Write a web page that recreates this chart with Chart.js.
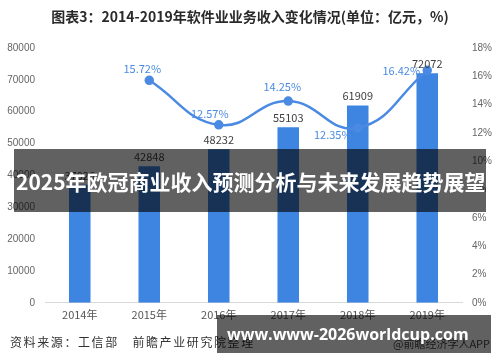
<!DOCTYPE html>
<html><head><meta charset="utf-8">
<script src="https://cdn.jsdelivr.net/npm/chart.js@4/dist/chart.umd.min.js"></script>
<style>
html,body{margin:0;padding:0;background:#fff;}
#wrap{position:relative;width:500px;height:362px;overflow:hidden;font-family:"Noto Sans CJK SC","Noto Sans",sans-serif;}
#c{position:absolute;left:0;top:0;}
.t{position:absolute;white-space:nowrap;}
#title{left:0;width:500px;top:6px;text-align:center;font-size:14px;font-weight:bold;color:#2a2a2a;}
#src{left:10px;top:333px;font-size:12px;color:#333;letter-spacing:1.6px;}
#app{left:393px;top:335px;font-size:11px;color:#444;}
#b1{left:14px;top:149px;width:472px;height:63px;background:rgba(0,0,0,0.62);}
#b1 span{position:absolute;left:2px;top:17px;font-size:21px;font-weight:bold;color:#fff;}
#b2{left:217px;top:315px;width:274px;height:38px;background:rgba(0,0,0,0.62);}
#b2 span{position:absolute;left:10px;top:8px;font-size:16px;font-weight:bold;color:#fff;font-family:"Open Sans","DejaVu Sans",sans-serif;}
</style></head>
<body><div id="wrap">
<canvas id="c" width="500" height="362"></canvas>
<div class="t" id="title">图表3：2014-2019年软件业业务收入变化情况(单位：亿元，%)</div>
<div class="t" id="src">资料来源：工信部　前瞻产业研究院整理</div>
<div class="t" id="app">@前瞻经济学人APP</div>
<div class="t" id="b1"><span>2025年欧冠商业收入预测分析与未来发展趋势展望</span></div>
<div class="t" id="b2"><span>www.www-2026worldcup.com</span></div>
</div>
<script>
const years = ['2014年','2015年','2016年','2017年','2018年','2019年'];
const revenue = [37026, 42848, 48232, 55103, 61909, 72072];
const growth = [null, 15.72, 12.57, 14.25, 12.35, 16.42];
const leftTicks = {min:0, max:80000, step:10000};
const rightTicks = {min:0, max:18, step:2};

const growthLabelOffsets = [null, [-7,-11], [-9,-11], [-6,-14], [-25,7], [-26,0]];
const BAR = '#3d85e0', LINE = '#4a8ae2';

const labelPlugin = {
  id:'labels',
  afterDatasetsDraw(chart){
    const ctx = chart.ctx;
    ctx.save();
    ctx.font = '11px "Noto Sans CJK SC","Noto Sans",sans-serif';
    ctx.textAlign = 'center';
    const bm = chart.getDatasetMeta(1);
    bm.data.forEach((el,i)=>{
      ctx.fillStyle = '#404040';
      ctx.textBaseline = 'bottom';
      ctx.fillText(String(revenue[i]), el.x, el.y - 4);
    });
    const lm = chart.getDatasetMeta(0);
    lm.data.forEach((el,i)=>{
      if (growth[i] == null) return;
      const o = growthLabelOffsets[i];
      ctx.fillStyle = LINE;
      ctx.textBaseline = 'middle';
      ctx.fillText(growth[i].toFixed(2)+'%', el.x + o[0], el.y + o[1]);
    });
    ctx.restore();
  }
};

const noGrid = {display:false, drawTicks:false, tickLength:0};
new Chart(document.getElementById('c'), {
  data:{
    labels: years,
    datasets:[
      {type:'line', data:growth, yAxisID:'y1', borderColor:LINE, backgroundColor:LINE,
       borderWidth:2.5, tension:0.45, pointRadius:3.5, pointBackgroundColor:LINE, spanGaps:false, order:0},
      {type:'bar', data:revenue, yAxisID:'y', backgroundColor:BAR, barPercentage:0.31, categoryPercentage:1, order:1}
    ]
  },
  options:{
    responsive:false, animation:false,
    layout:{padding:{top:48, left:0, right:0, bottom:36}},
    plugins:{legend:{display:false}, tooltip:{enabled:false}, title:{display:false}},
    scales:{
      x:{grid:noGrid, border:{color:'#d9d9d9'},
         ticks:{color:'#555', font:{size:11, family:'"Noto Sans CJK SC",sans-serif'}, padding:5}},
      y:{position:'left', min:leftTicks.min, max:leftTicks.max, grid:noGrid, border:{display:false},
         afterFit:s=>{s.width=45;},
         ticks:{stepSize:leftTicks.step, color:'#666', font:{size:10}, padding:10, callback:v=>String(v)}},
      y1:{position:'right', min:rightTicks.min, max:rightTicks.max, grid:noGrid, border:{display:false},
         afterFit:s=>{s.width=38;},
         ticks:{stepSize:rightTicks.step, color:'#666', font:{size:10}, padding:10, callback:v=>v+'%'}}
    }
  },
  plugins:[labelPlugin]
});
</script>
</body></html>
